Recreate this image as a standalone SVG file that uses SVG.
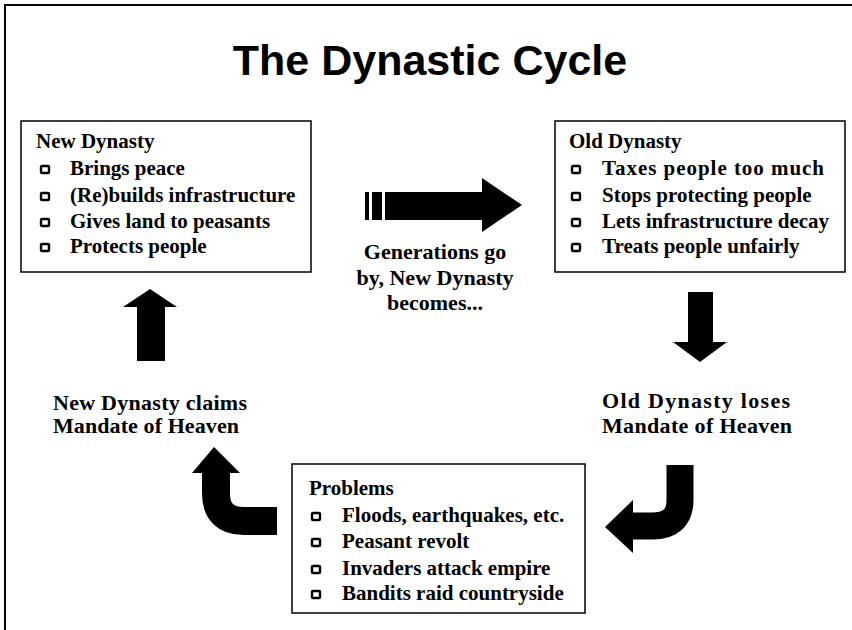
<svg xmlns="http://www.w3.org/2000/svg" width="852" height="630" viewBox="0 0 852 630">
<style>
.frame{stroke:#000;stroke-width:2;fill:none}
.box{fill:#fff;stroke:#000;stroke-width:1.5}
.title{font-family:"Liberation Sans",Arial,sans-serif;font-weight:bold;font-size:43px;fill:#000}
.hd{font-family:"Liberation Serif","Times New Roman",serif;font-weight:bold;font-size:21px;fill:#000}
.it{font-family:"Liberation Serif","Times New Roman",serif;font-weight:bold;font-size:21px;fill:#000}
.lbl{font-family:"Liberation Serif","Times New Roman",serif;font-weight:bold;font-size:22px;fill:#000}
.bul{fill:#fff;stroke:#000;stroke-width:2.4}
.arr{fill:#000}
.curve{fill:none;stroke:#000}
</style>
<rect width="852" height="630" fill="#fff"/>
<path class="frame" d="M5 630 V5 H852"/>
<text class="title" x="430" y="75" text-anchor="middle">The Dynastic Cycle</text>

<g id="new-dynasty">
<rect class="box" x="21" y="121" width="290" height="151"/>
<text class="hd" x="36" y="148">New Dynasty</text>
<rect class="bul" x="41" y="166" width="8" height="7" rx="1"/>
<text class="it" x="70" y="175">Brings peace</text>
<rect class="bul" x="41" y="193" width="8" height="7" rx="1"/>
<text class="it" x="70" y="202">(Re)builds infrastructure</text>
<rect class="bul" x="41" y="219" width="8" height="7" rx="1"/>
<text class="it" x="70" y="228">Gives land to peasants</text>
<rect class="bul" x="41" y="244" width="8" height="7" rx="1"/>
<text class="it" x="70" y="253">Protects people</text>
</g>

<g id="old-dynasty">
<rect class="box" x="555" y="121" width="290" height="151"/>
<text class="hd" x="569" y="148">Old Dynasty</text>
<rect class="bul" x="572" y="166" width="8" height="7" rx="1"/>
<text class="it" x="602" y="175" textLength="222">Taxes people too much</text>
<rect class="bul" x="572" y="193" width="8" height="7" rx="1"/>
<text class="it" x="602" y="202">Stops protecting people</text>
<rect class="bul" x="572" y="219" width="8" height="7" rx="1"/>
<text class="it" x="602" y="228">Lets infrastructure decay</text>
<rect class="bul" x="572" y="244" width="8" height="7" rx="1"/>
<text class="it" x="602" y="253">Treats people unfairly</text>
</g>

<g id="problems">
<rect class="box" x="292" y="464" width="293" height="149"/>
<text class="hd" x="309" y="495">Problems</text>
<rect class="bul" x="312" y="513" width="8" height="7" rx="1"/>
<text class="it" x="342" y="522">Floods, earthquakes, etc.</text>
<rect class="bul" x="312" y="539" width="8" height="7" rx="1"/>
<text class="it" x="342" y="548">Peasant revolt</text>
<rect class="bul" x="312" y="566" width="8" height="7" rx="1"/>
<text class="it" x="342" y="575">Invaders attack empire</text>
<rect class="bul" x="312" y="591" width="8" height="7" rx="1"/>
<text class="it" x="342" y="600">Bandits raid countryside</text>
</g>

<g id="generations-label">
<text class="lbl" x="435" y="259" text-anchor="middle">Generations go</text>
<text class="lbl" x="435" y="285" text-anchor="middle">by, New Dynasty</text>
<text class="lbl" x="435" y="310" text-anchor="middle">becomes...</text>
</g>

<g id="loses-label">
<text class="lbl" x="602" y="408" textLength="188">Old Dynasty loses</text>
<text class="lbl" x="602" y="433" textLength="190">Mandate of Heaven</text>
</g>

<g id="claims-label">
<text class="lbl" x="53" y="410" textLength="194">New Dynasty claims</text>
<text class="lbl" x="53" y="433" textLength="186">Mandate of Heaven</text>
</g>

<g id="connectors">
<rect class="arr" x="365" y="192" width="4" height="28"/>
<rect class="arr" x="372" y="192" width="10" height="28"/>
<polygon class="arr" points="385,192 482,192 482,178 522,205 482,232 482,220 385,220"/>
<polygon class="arr" points="673,342 688,342 688,292 713,292 713,342 727,342 700,362"/>
<polygon class="arr" points="123,307 137,307 137,361 165,361 165,307 177,307 150,289"/>
<path class="curve" stroke-width="27" d="M680 465 V500 Q680 526 652 526 H630"/>
<polygon class="arr" points="633,500 633,553 605,527"/>
<path class="curve" stroke-width="28" d="M277 521 H244 Q216 521 216 493 V471"/>
<polygon class="arr" points="192,473 240,473 214,447"/>
</g>
</svg>
